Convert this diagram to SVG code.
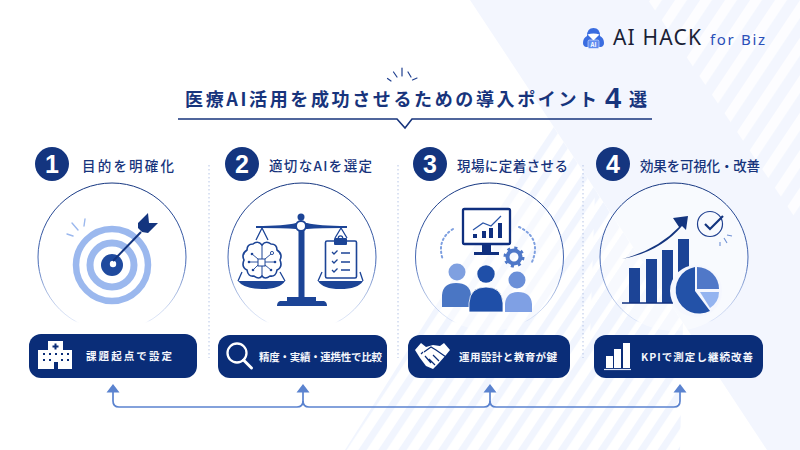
<svg xmlns="http://www.w3.org/2000/svg" width="800" height="450" viewBox="0 0 800 450">
<style>
text{font-family:"Noto Sans CJK JP","Noto Sans",sans-serif}
.ttl{font-size:18px;font-weight:700;fill:#17347c}
.hd{font-size:13.5px;font-weight:500;fill:#17347c}
.num{font-family:"Liberation Sans",sans-serif;font-size:25px;font-weight:700;fill:#fff;text-anchor:middle}
.badge{fill:#14357f}
.pill{fill:#0a2d78}
.ptx{font-size:10.5px;font-weight:700;fill:#f4f6fc}
.ring{fill:#fff;fill-opacity:.45;stroke:url(#rg);stroke-width:1}
.sep{stroke:#b5c4e6;stroke-width:1;stroke-dasharray:1.5 2.5;fill:none}
.conn{fill:none;stroke:#5b83cf;stroke-width:1.7}
.burst{fill:none;stroke:#1f3f8f;stroke-width:1.2;stroke-linecap:round}
.lb{stroke:#9bb8ee;stroke-width:1.4;fill:none;stroke-linecap:round}
.d{fill:#1c4496}
.ln{fill:none;stroke:#1c4496;stroke-width:1.3}
</style>
<defs>
<linearGradient id="rg" x1="0" y1="0" x2="0" y2="1">
<stop offset="0" stop-color="#14357f"/><stop offset=".55" stop-color="#4a6db8"/><stop offset=".93" stop-color="#c5d4f3" stop-opacity=".5"/><stop offset=".95" stop-color="#fff" stop-opacity="0"/>
</linearGradient>
<pattern id="st" patternUnits="userSpaceOnUse" width="16.6" height="10" patternTransform="rotate(33.7)"><rect width="7" height="10" fill="#f1f5fe"/></pattern>
<pattern id="st2" patternUnits="userSpaceOnUse" width="16.6" height="10" patternTransform="rotate(33.7)"><rect width="11" height="10" fill="#f1f5fe"/></pattern>
<pattern id="wt" patternUnits="userSpaceOnUse" width="20.8" height="10" patternTransform="rotate(33.7)"><rect width="10" height="10" fill="#fff" fill-opacity=".8"/></pattern>
</defs>
<g id="background">
<rect width="800" height="450" fill="#fff"/>
<polygon points="470,0 800,0 800,450 767,450" fill="#f3f6fe"/>
<polygon points="648,0 800,0 800,225" fill="url(#wt)"/>
<polygon points="551,123 683,323 680,450 345,450" fill="url(#st)"/>
<polygon points="595,190 683,323 676,340 590,340" fill="url(#st2)"/>
</g>
<g id="logo">
<path d="M583 43Q583 38 587 36Q587 28 593.500 28Q600 28 600 36Q604 38 604 43Q604 46 601 47H586Q583 46 583 43Z" fill="#3a6de0"/>
<path d="M587.500 34.500Q593.500 32.500 599.500 34.500L593.500 40.500Z" fill="#fff"/>
<rect x="588" y="40" width="11" height="8.500" rx="1.500" fill="#5f8cf0" stroke="#fff" stroke-width=".5"/>
<text x="593.500" y="46.800" font-size="6" font-weight="700" fill="#fff" text-anchor="middle">AI</text>
<text x="613" y="45" font-size="21" textLength="88" style="font-family:'Noto Sans',sans-serif" fill="#1a1f36">AI HACK</text>
<text x="710" y="45" font-size="15" textLength="55" style="font-family:'Noto Sans',sans-serif" fill="#2a4fb8">for Biz</text>
</g>
<g id="title">
<text class="ttl" x="185" y="106" textLength="412">医療AI活用を成功させるための導入ポイント</text>
<text x="605" y="108" style="font-family:'Liberation Sans',sans-serif" font-size="29" font-weight="700" fill="#17347c">4</text>
<text class="ttl" x="629" y="106">選</text>
<path d="M178 119H397L405 128L412 119H652" fill="none" stroke="#17347c" stroke-width="1.600"/>
<path class="burst" d="M387.500 78.500L391 81M393.500 72L397 77M402 68V76M408 72L411 77M417 78L412.500 80"/>
</g>
<g id="node1">
<circle class="badge" cx="52" cy="164" r="17"/><text class="num" x="52" y="173">1</text>
<text class="hd" x="82" y="171" textLength="92">目的を明確化</text>
<circle class="ring" cx="112" cy="257" r="74"/>
<circle cx="112" cy="265" r="36" fill="none" stroke="#9bb8ee" stroke-width="6.500"/>
<circle cx="112" cy="265" r="22" fill="none" stroke="#9bb8ee" stroke-width="7"/>
<circle cx="112" cy="265" r="11" fill="#1f4a9e"/>
<circle cx="113" cy="264" r="3.200" fill="#fff"/>
<path d="M113 261L141 232" stroke="#14357f" stroke-width="2"/>
<path d="M138 223L148 213L149 223L158 223L148 233L142 232L138 228Z" fill="#14357f"/>
<path class="lb" d="M72 223L78 230M85 219L84 226M67 234L73 236"/>
</g>
<g id="node2">
<circle class="badge" cx="242" cy="164" r="17"/><text class="num" x="242" y="173">2</text>
<text class="hd" x="269" y="171" textLength="103">適切なAIを選定</text>
<circle class="ring" cx="302" cy="257" r="74"/>
<path class="ln" d="M262 228L256 240M262 228L268 240M242 272L238 281M280 272L285 281M341 228L335 238M341 228L347 238M322 272L318 281M360 272L363 281"/>
<path d="M256 226Q285 226 296 223H307Q318 226 347 226V228L343 228Q320 228 307 229H296Q283 228 260 228H256Z" class="d"/>
<circle cx="301" cy="217" r="3.500" class="d"/>
<rect x="298.500" y="225" width="6" height="74" class="d"/>
<path d="M287 297H316V301H324Q327 302 327 306H277Q277 302 280 301H287Z" class="d"/>
<circle cx="301" cy="226" r="5" fill="#fff" stroke="#1c4496" stroke-width="2"/>
<path d="M238 281H285Q280 289 262 289Q244 289 238 281Z" class="d"/>
<path d="M318 281H363Q358 289 340 289Q323 289 318 281Z" class="d"/>
<path d="M262 245Q258 240 253 244Q247 244 247 250Q241 254 244 260Q241 267 247 270Q248 277 254 276Q259 280 262 276Q265 280 270 276Q276 277 277 270Q283 267 280 260Q283 254 277 250Q277 244 271 244Q266 240 262 245Z" fill="#fff" stroke="#1c4496" stroke-width="1.600"/>
<path d="M262 245V276" stroke="#1c4496" stroke-width="1" fill="none"/>
<rect x="258" y="259" width="7" height="7" fill="#fff" stroke="#1c4496" stroke-width="1"/>
<path d="M258 259L252 254M258 262H249M258 265L253 270M265 259L271 254M265 262H275M265 265L271 270" stroke="#1c4496" stroke-width=".9" fill="none"/>
<g class="d"><circle cx="252" cy="254" r="1.300"/><circle cx="249" cy="262" r="1.300"/><circle cx="253" cy="270" r="1.300"/><circle cx="275" cy="262" r="1.300"/><circle cx="271" cy="270" r="1.300"/></g>
<circle cx="272" cy="253" r="1.600" fill="#fff" stroke="#1c4496" stroke-width=".9"/>
<rect x="325.500" y="241" width="31" height="37" rx="1.500" fill="#fff" stroke="#1c4496" stroke-width="1.600"/>
<rect x="334" y="238" width="13" height="7" rx="1" class="d"/>
<circle cx="340.500" cy="238" r="2.200" fill="none" stroke="#1c4496" stroke-width="1.200"/>
<path d="M332 252L334 254L337.500 250.500M332 261L334 263L337.500 259.500M332 270L334 272L337.500 268.500M341 253H350M341 262H350M341 270H350" fill="none" stroke="#1c4496" stroke-width="1.300"/>
</g>
<g id="node3">
<circle class="badge" cx="430" cy="164" r="17"/><text class="num" x="430" y="173">3</text>
<text class="hd" x="457" y="171" textLength="111">現場に定着させる</text>
<circle class="ring" cx="489.500" cy="257" r="74"/>
<rect x="463" y="209" width="47" height="35" rx="1.500" fill="#fff" stroke="#0f2f7f" stroke-width="2.300"/>
<path d="M482 244H491V252H499V255H474V252H482Z" fill="#0f2f7f"/>
<path d="M473 234h4v4h-4zM482 231h4v7h-4zM489 228h4v10h-4zM498 223h4v15h-4z" fill="#0f2f7f"/>
<path d="M473 230L483 223L491 226L501 216" fill="none" stroke="#2a55a8" stroke-width="1.200"/>
<path d="M453 229Q436 240 443 260M519 227Q542 238 532 262" fill="none" stroke="#7fa0e0" stroke-width="2" stroke-dasharray="1.500 3" stroke-linecap="round"/>
<circle cx="514" cy="257" r="6.500" fill="none" stroke="#4f78c8" stroke-width="4"/>
<circle cx="514" cy="257" r="9" fill="none" stroke="#4f78c8" stroke-width="3" stroke-dasharray="3 4.070"/>
<circle cx="457" cy="272" r="8.500" fill="#7fa0e0"/>
<path d="M442 307V295Q443 283 456 283Q470 283 471 295V307Z" fill="#4a76c4"/>
<circle cx="517" cy="280" r="8.500" fill="#6a8fd8"/>
<path d="M505 312V304Q506 292 518 292Q531 292 532 304V312Z" fill="#7fa0e4"/>
<circle cx="486" cy="274" r="8.700" fill="#1f4fa8"/>
<path d="M469 312V303Q470 287 486 287Q502 287 503 303V312Z" fill="#1f4fa8" stroke="#fff" stroke-width=".8"/>
</g>
<g id="node4">
<circle class="badge" cx="613" cy="164" r="17"/><text class="num" x="613" y="173">4</text>
<text class="hd" x="640" y="171" textLength="120">効果を可視化・改善</text>
<circle class="ring" cx="674" cy="257" r="74"/>
<path d="M629 268h11v35h-11zM646 259h11v44h-11zM662 250h11v53h-11zM678 239h11v64h-11z" fill="#1c4496"/>
<path d="M622 303H673" stroke="#0f2f7f" stroke-width="1.600"/>
<path d="M622 259Q657 250 679 227L673 218L688 216L686 230L682 226Q660 252 622 259Z" fill="#14357f"/>
<circle cx="696" cy="291" r="26" fill="#f5f7fe"/>
<path d="M695 267V291L710 311A23.500 23.500 0 1 1 695 267Z" fill="#2352a8"/>
<path d="M697 267A22 22 0 0 1 719 289H697Z" fill="#5078c8"/>
<path d="M700 292H719Q719 302 710 308Z" fill="#94b4f0"/>
<circle cx="710" cy="224" r="12.500" fill="none" stroke="#1f3f8f" stroke-width="1.200"/>
<path d="M705 224L710 229L723 216" fill="none" stroke="#14357f" stroke-width="2.200"/>
<path d="M720 242V246M724 238L727 243M727 235L732 236" fill="none" stroke="#6f90d4" stroke-width="1.100"/>
</g>
<g id="pill1">
<rect class="pill" x="29" y="334" width="168" height="44" rx="12"/>
<path d="M48 341H63V350H72V369H58V362H54V369H38V350H48Z" fill="#fff"/>
<path d="M54.500 343.500h2v2h2v2h-2v2h-2v-2h-2v-2h2z" fill="#0a2d78"/>
<path d="M43 353h2v2h-2zM49 353h2v2h-2zM55 353h2v2h-2zM61 353h2v2h-2zM67 353h2v2h-2zM43 359h2v2h-2zM49 359h2v2h-2zM61 359h2v2h-2zM67 359h2v2h-2z" fill="#0a2d78"/>
<text class="ptx" x="86" y="360" textLength="86">課題起点で設定</text>
</g>
<g id="pill2">
<rect class="pill" x="218" y="335" width="169" height="43" rx="12"/>
<circle cx="237" cy="353" r="9.500" fill="none" stroke="#fff" stroke-width="2.300"/>
<path d="M243.500 360L251.500 368" stroke="#fff" stroke-width="3" stroke-linecap="round"/>
<text class="ptx" x="259" y="361" textLength="123">精度・実績・連携性で比較</text>
</g>
<g id="pill3">
<rect class="pill" x="408" y="335" width="162" height="43" rx="12"/>
<path d="M415 350L421 343L426 347L433 345L440 346L444 343L450 350L446 355L438 364L433 369L426 366L420 358Z" fill="#fff"/>
<path d="M421 354L423 352M424 352L431 347L436 350L446 357M429 359L435 365M425 356L431 363M433 355L439 361" fill="none" stroke="#0a2d78" stroke-width="1.200"/>
<text class="ptx" x="459" y="361" textLength="98">運用設計と教育が鍵</text>
</g>
<g id="pill4">
<rect class="pill" x="594" y="335" width="169" height="43" rx="12"/>
<path d="M606 356h7v12h-7zM614 349h7v19h-7zM623 343h7v25h-7z" fill="#fff"/>
<path d="M604 369.500H631" stroke="#dfe6f6" stroke-width="1.200"/>
<text class="ptx" x="641" y="361" textLength="112">KPIで測定し継続改善</text>
</g>
<g id="connectors">
<path class="conn" d="M113 392V401Q113 407 119 407H297Q303 407 303 401V392"/>
<path class="conn" d="M303 401Q303 407 309 407H484Q490 407 490 401V392"/>
<path class="conn" d="M490 401Q490 407 496 407H674Q680 407 680 401V392"/>
<path d="M106.500 392.500L113 384L119.500 392.500ZM296.500 392.500L303 384L309.500 392.500ZM483.500 392.500L490 384L496.500 392.500ZM673.500 392.500L680 384L686.500 392.500Z" fill="#5b83cf"/>
</g>
<g id="separators">
<path class="sep" d="M209 165V358M398 165V358M583 165V358"/>
</g>
</svg>
